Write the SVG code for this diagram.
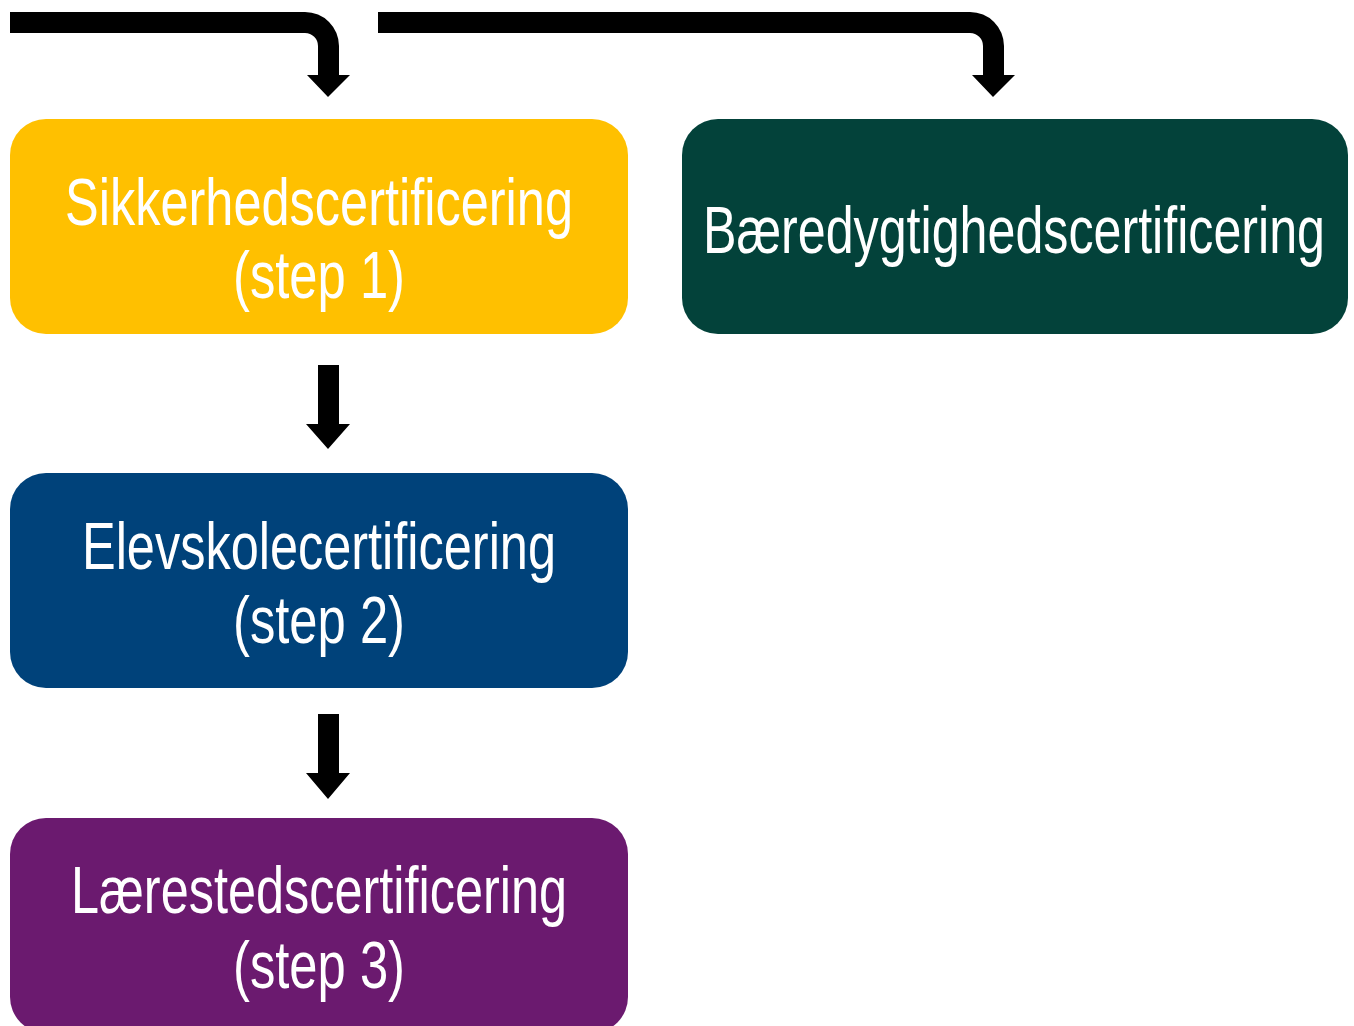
<svg xmlns="http://www.w3.org/2000/svg" width="1354" height="1026" viewBox="0 0 1354 1026">
<style>
.lbl{font-family:"Liberation Sans Narrow","Arial Narrow","Liberation Sans",Arial,sans-serif;font-size:66px;fill:#ffffff;text-anchor:middle}
.arr{fill:#000000}
</style>
<rect width="1354" height="1026" fill="#ffffff"/>
<g id="connectors">
<path class="arr" d="M10,12 H305 A34,34 0 0 1 339,46 V75 H350 L328,97 L307,75 H318 V46 A13,13 0 0 0 305,33 H10 Z"/>
<path class="arr" d="M378,12 H970 A34,34 0 0 1 1004,46 V75 H1015 L993,97 L972,75 H983 V46 A13,13 0 0 0 970,33 H378 Z"/>
<path class="arr" d="M318,365 H339 V424 H350 L328,449 L306,424 H318 Z"/>
<path class="arr" d="M318,714 H339 V773 H350 L328,799 L306,773 H318 Z"/>
</g>
<g id="node-step1">
<rect x="10" y="119" width="618" height="215" rx="36" fill="#FFC000"/>
<text class="lbl" x="319" y="225" textLength="508" lengthAdjust="spacingAndGlyphs">Sikkerhedscertificering</text>
<text class="lbl" x="319" y="298" textLength="172" lengthAdjust="spacingAndGlyphs">(step 1)</text>
</g>
<g id="node-baeredygtighed">
<rect x="682" y="119" width="666" height="215" rx="36" fill="#03423A"/>
<text class="lbl" x="1014" y="253" textLength="622" lengthAdjust="spacingAndGlyphs">Bæredygtighedscertificering</text>
</g>
<g id="node-step2">
<rect x="10" y="473" width="618" height="215" rx="36" fill="#00427A"/>
<text class="lbl" x="319" y="569" textLength="474" lengthAdjust="spacingAndGlyphs">Elevskolecertificering</text>
<text class="lbl" x="319" y="643" textLength="172" lengthAdjust="spacingAndGlyphs">(step 2)</text>
</g>
<g id="node-step3">
<rect x="10" y="818" width="618" height="215" rx="36" fill="#6B1A6F"/>
<text class="lbl" x="319" y="913" textLength="496" lengthAdjust="spacingAndGlyphs">Lærestedscertificering</text>
<text class="lbl" x="319" y="988" textLength="172" lengthAdjust="spacingAndGlyphs">(step 3)</text>
</g>
</svg>
